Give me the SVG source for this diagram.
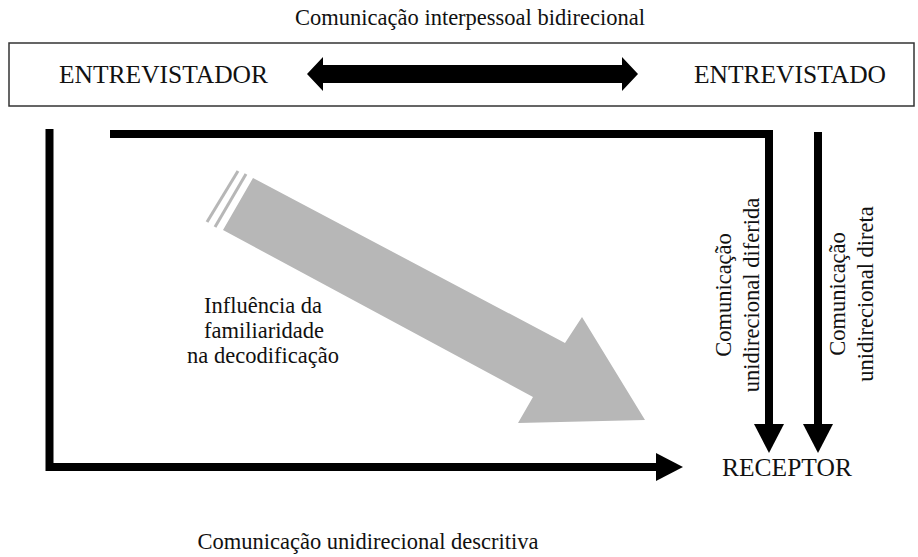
<svg xmlns="http://www.w3.org/2000/svg" width="918" height="557" viewBox="0 0 918 557">
<style>
  text { font-family: "Liberation Serif", "Times New Roman", serif; fill: #111; }
  .lbl { font-size: 22.5px; }
  .cap { font-size: 25.5px; }
  .line { fill: none; stroke: #000; stroke-width: 8; stroke-linejoin: miter; stroke-linecap: butt; }
  .head { fill: #000; }
  .gray { fill: #b7b7b7; }
  .stripe { stroke: #b7b7b7; stroke-width: 3; }
</style>
<rect width="918" height="557" fill="#fff"/>

<g id="title">
  <text class="lbl" x="470" y="25" text-anchor="middle">Comunicação interpessoal bidirecional</text>
</g>

<g id="interview-box">
  <rect x="9" y="43" width="905" height="63" fill="none" stroke="#333" stroke-width="1.5"/>
</g>

<g id="entrevistador">
  <text class="cap" x="59" y="83">ENTREVISTADOR</text>
</g>

<g id="entrevistado">
  <text class="cap" x="886" y="83" text-anchor="end">ENTREVISTADO</text>
</g>

<g id="receptor">
  <text class="cap" x="722" y="476">RECEPTOR</text>
</g>

<g id="connectors">
  <!-- bidirectional arrow -->
  <polygon class="head" points="307,74 323,57 323,65 622,65 622,57 638,74 622,91 622,83 323,83 323,91"/>
  <!-- descriptive: entrevistador -> receptor -->
  <path class="line" d="M49.5,129 V467 H657"/>
  <polygon class="head" points="656,453 683,467 656,481"/>
  <!-- deferred: entrevistador -> receptor -->
  <path class="line" d="M110,134 H769 V425"/>
  <polygon class="head" points="754,424 769,453 784,424"/>
  <!-- direct: entrevistado -> receptor -->
  <path class="line" d="M818,132 V425"/>
  <polygon class="head" points="803,424 818,453 833,424"/>
  <!-- influence arrow -->
  <polygon class="gray" points="253,178 565,343 582,317 645,420 518,423 533,397 223,230"/>
  <line class="stripe" x1="238" y1="171" x2="207" y2="222"/>
  <line class="stripe" x1="246" y1="174" x2="215" y2="227"/>
</g>

<g id="labels">
  <text class="lbl" text-anchor="middle" x="263" y="313">Influência da</text>
  <text class="lbl" text-anchor="middle" x="264" y="338">familiaridade</text>
  <text class="lbl" text-anchor="middle" x="263" y="363">na decodificação</text>
  <g transform="translate(731,295) rotate(-90)">
    <text class="lbl" text-anchor="middle" x="0" y="0">Comunicação</text>
    <text class="lbl" text-anchor="middle" x="0" y="28">unidirecional diferida</text>
  </g>
  <g transform="translate(845,294) rotate(-90)">
    <text class="lbl" text-anchor="middle" x="0" y="0">Comunicação</text>
    <text class="lbl" text-anchor="middle" x="0" y="28">unidirecional direta</text>
  </g>
  <text class="lbl" text-anchor="middle" x="368" y="549">Comunicação unidirecional descritiva</text>
</g>
</svg>
